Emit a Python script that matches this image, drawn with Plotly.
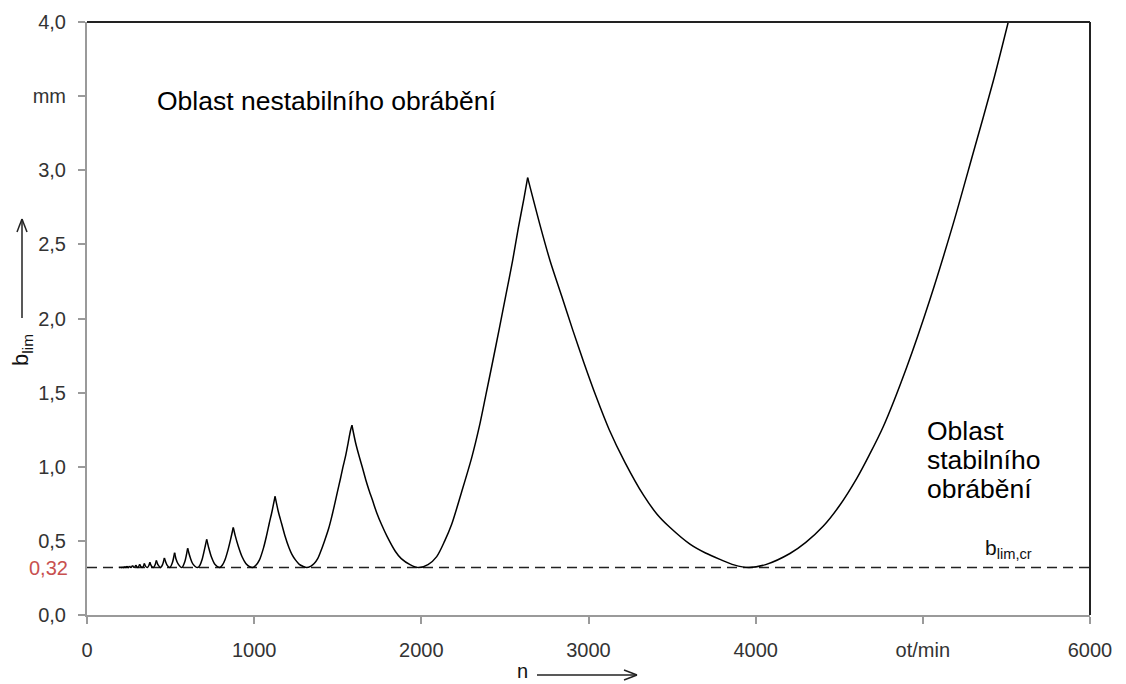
import plotly.graph_objects as go

# spindle speed n [ot/min] and limiting depth of cut b_lim [mm]
n_rpm = [190, 202, 208, 213, 220, 226, 233, 239, 248, 254, 264, 272, 283, 292, 298, 305,
         315, 322, 330, 338, 343, 351, 361, 370, 376, 385, 397, 407, 415, 425, 441, 452,
         463, 470, 480, 496, 510, 524, 532, 545, 567, 585, 602, 617, 633, 661, 675, 688,
         702, 716, 728, 745, 766, 793, 810, 825, 844, 859, 875, 887, 905, 927, 950, 970,
         991, 1010, 1031, 1056, 1074, 1090, 1107, 1125, 1144, 1164, 1184, 1209, 1225, 1248,
         1270, 1291, 1314, 1340, 1359, 1380, 1395, 1421, 1446, 1465, 1482, 1498, 1515, 1531,
         1548, 1562, 1576, 1585, 1607, 1626, 1647, 1667, 1687, 1709, 1733, 1762, 1795, 1844,
         1880, 1935, 1983, 2040, 2092, 2140, 2181, 2241, 2301, 2347, 2387, 2427, 2467, 2506,
         2546, 2580, 2614, 2636, 2710, 2770, 2840, 2905, 2973, 3045, 3124, 3218, 3328, 3410,
         3488, 3607, 3700, 3787, 3870, 3960, 4060, 4205, 4300, 4405, 4500, 4604, 4680, 4763,
         4903, 5043, 5182, 5302, 5421, 5511]
b_lim = [0.32, 0.323, 0.32, 0.325, 0.32, 0.327, 0.32, 0.329, 0.32, 0.331, 0.32, 0.334, 0.32,
         0.337, 0.325, 0.32, 0.342, 0.327, 0.32, 0.33, 0.348, 0.328, 0.32, 0.334, 0.356, 0.331,
         0.32, 0.337, 0.368, 0.338, 0.32, 0.34, 0.385, 0.36, 0.335, 0.32, 0.35, 0.42, 0.38,
         0.345, 0.32, 0.36, 0.45, 0.389, 0.345, 0.32, 0.335, 0.372, 0.438, 0.51, 0.454, 0.389,
         0.34, 0.32, 0.337, 0.371, 0.441, 0.51, 0.59, 0.534, 0.464, 0.395, 0.348, 0.328, 0.32,
         0.335, 0.37, 0.453, 0.535, 0.617, 0.70, 0.80, 0.70, 0.617, 0.535, 0.452, 0.411, 0.37,
         0.342, 0.329, 0.32, 0.33, 0.347, 0.38, 0.42, 0.50, 0.585, 0.667, 0.75, 0.83, 0.914,
         0.997, 1.078, 1.16, 1.243, 1.28, 1.16, 1.079, 0.997, 0.914, 0.842, 0.77, 0.69, 0.61,
         0.53, 0.43, 0.38, 0.338, 0.32, 0.34, 0.394, 0.50, 0.61, 0.83, 1.06, 1.272, 1.49,
         1.71, 1.935, 2.16, 2.39, 2.61, 2.81, 2.95, 2.63, 2.39, 2.15, 1.925, 1.70, 1.475,
         1.25, 1.03, 0.81, 0.68, 0.59, 0.478, 0.418, 0.375, 0.338, 0.32, 0.34, 0.415, 0.49,
         0.60, 0.735, 0.92, 1.08, 1.27, 1.67, 2.13, 2.64, 3.12, 3.60, 4.0]

b_lim_cr = 0.32
x_limits = [0, 6000]

x_tickvals = [0, 1000, 2000, 3000, 4000, 5000, 6000]
x_ticktext = ["0", "1000", "2000", "3000", "4000", "ot/min", "6000"]
y_tickvals = [0, 0.5, 1.0, 1.5, 2.0, 2.5, 3.0, 3.5, 4.0]
y_ticktext = ["0,0", "0,5", "1,0", "1,5", "2,0", "2,5", "3,0", "mm", "4,0"]

FONT = "Liberation Sans, Arial, Helvetica, sans-serif"
TICKC = "#333333"

fig = go.Figure()
fig.add_trace(go.Scatter(x=x_limits, y=[b_lim_cr, b_lim_cr], mode="lines",
                         line=dict(color="#222222", width=1.5, dash="10px,6px"),
                         hoverinfo="skip", showlegend=False))

# split the curve at the cusps (local maxima) so each lobe arc is smoothed on its own
peaks = [i for i in range(1, len(b_lim) - 1) if b_lim[i] > b_lim[i - 1] and b_lim[i] > b_lim[i + 1]]
bounds = [0] + peaks + [len(b_lim) - 1]
for a, b in zip(bounds[:-1], bounds[1:]):
    fig.add_trace(go.Scatter(x=n_rpm[a:b + 1], y=b_lim[a:b + 1], mode="lines",
                             line=dict(color="#000000", width=1.5, shape="spline", smoothing=0.8),
                             showlegend=False))

axis_common = dict(showgrid=False, zeroline=False, showline=True, linecolor="#9a9a9a",
                   linewidth=2, ticks="outside", ticklen=7, tickcolor="#9a9a9a",
                   tickwidth=1.5, tickfont=dict(family=FONT, size=20, color=TICKC))


def px_to_paper(px, py):
    return (px - 87) / 1003.0, (615 - py) / 593.0


shapes = [
    dict(type="line", xref="paper", yref="paper", x0=0, x1=1, y0=1, y1=1,
         line=dict(color="#222222", width=2)),
    dict(type="line", xref="paper", yref="paper", x0=1, x1=1, y0=0, y1=1,
         line=dict(color="#222222", width=2)),
]
# y-axis arrow (vertical, pointing up) and x-axis arrow (horizontal, pointing right)
arrow_segments = [
    ((22, 318), (22, 219)), ((22, 219), (17, 232)), ((22, 219), (27, 232)),
    ((537, 675), (637, 675)), ((637, 675), (624, 670)), ((637, 675), (624, 680)),
]
for (x0, y0), (x1, y1) in arrow_segments:
    a0, b0 = px_to_paper(x0, y0)
    a1, b1 = px_to_paper(x1, y1)
    shapes.append(dict(type="line", xref="paper", yref="paper", x0=a0, y0=b0, x1=a1, y1=b1,
                       line=dict(color="#222222", width=1.5)))

fig.update_layout(
    width=1126, height=684,
    margin=dict(l=87, r=36, t=22, b=69),
    paper_bgcolor="white", plot_bgcolor="white",
    font=dict(family=FONT, color="#000000"),
    xaxis=dict(range=x_limits, tickvals=x_tickvals, ticktext=x_ticktext,
               ticklabelstandoff=9, **axis_common),
    yaxis=dict(range=[0, 4], tickvals=y_tickvals, ticktext=y_ticktext,
               ticklabelstandoff=8, **axis_common),
    shapes=shapes,
)

ann = []
ann.append(dict(text="Oblast nestabilního obrábění", xref="paper", yref="paper",
                x=0.0678, y=0.866, xanchor="left", yanchor="middle", showarrow=False,
                font=dict(family=FONT, size=26.5, color="#000000")))
for txt, yy in [("Oblast", 0.311), ("stabilního", 0.261), ("obrábění", 0.212)]:
    ann.append(dict(text=txt, xref="paper", yref="paper", x=0.8355, y=yy,
                    xanchor="left", yanchor="middle", showarrow=False,
                    font=dict(family=FONT, size=26.5, color="#000000")))
ann.append(dict(text="0,32", xref="paper", yref="y", x=-0.017, y=b_lim_cr,
                xanchor="right", yanchor="middle", showarrow=False,
                font=dict(family=FONT, size=20, color="#c8504f")))
ann.append(dict(text="b<sub>lim,cr</sub>", xref="paper", yref="paper", x=0.893, y=0.112,
                xanchor="left", yanchor="middle", showarrow=False,
                font=dict(family=FONT, size=21, color="#111111")))
# y axis title
ann.append(dict(text="b<sub>lim</sub>", xref="paper", yref="paper", x=-0.0648, y=0.447,
                xanchor="center", yanchor="middle", textangle=-90, showarrow=False,
                font=dict(family=FONT, size=22, color="#111111")))
# x axis title
xn, yn = px_to_paper(522, 684)
ann.append(dict(text="n", xref="paper", yref="paper", x=xn, y=yn,
                xanchor="center", yanchor="bottom", showarrow=False,
                font=dict(family=FONT, size=20, color="#111111")))
fig.update_layout(annotations=ann)

fig.write_html("out.html")
